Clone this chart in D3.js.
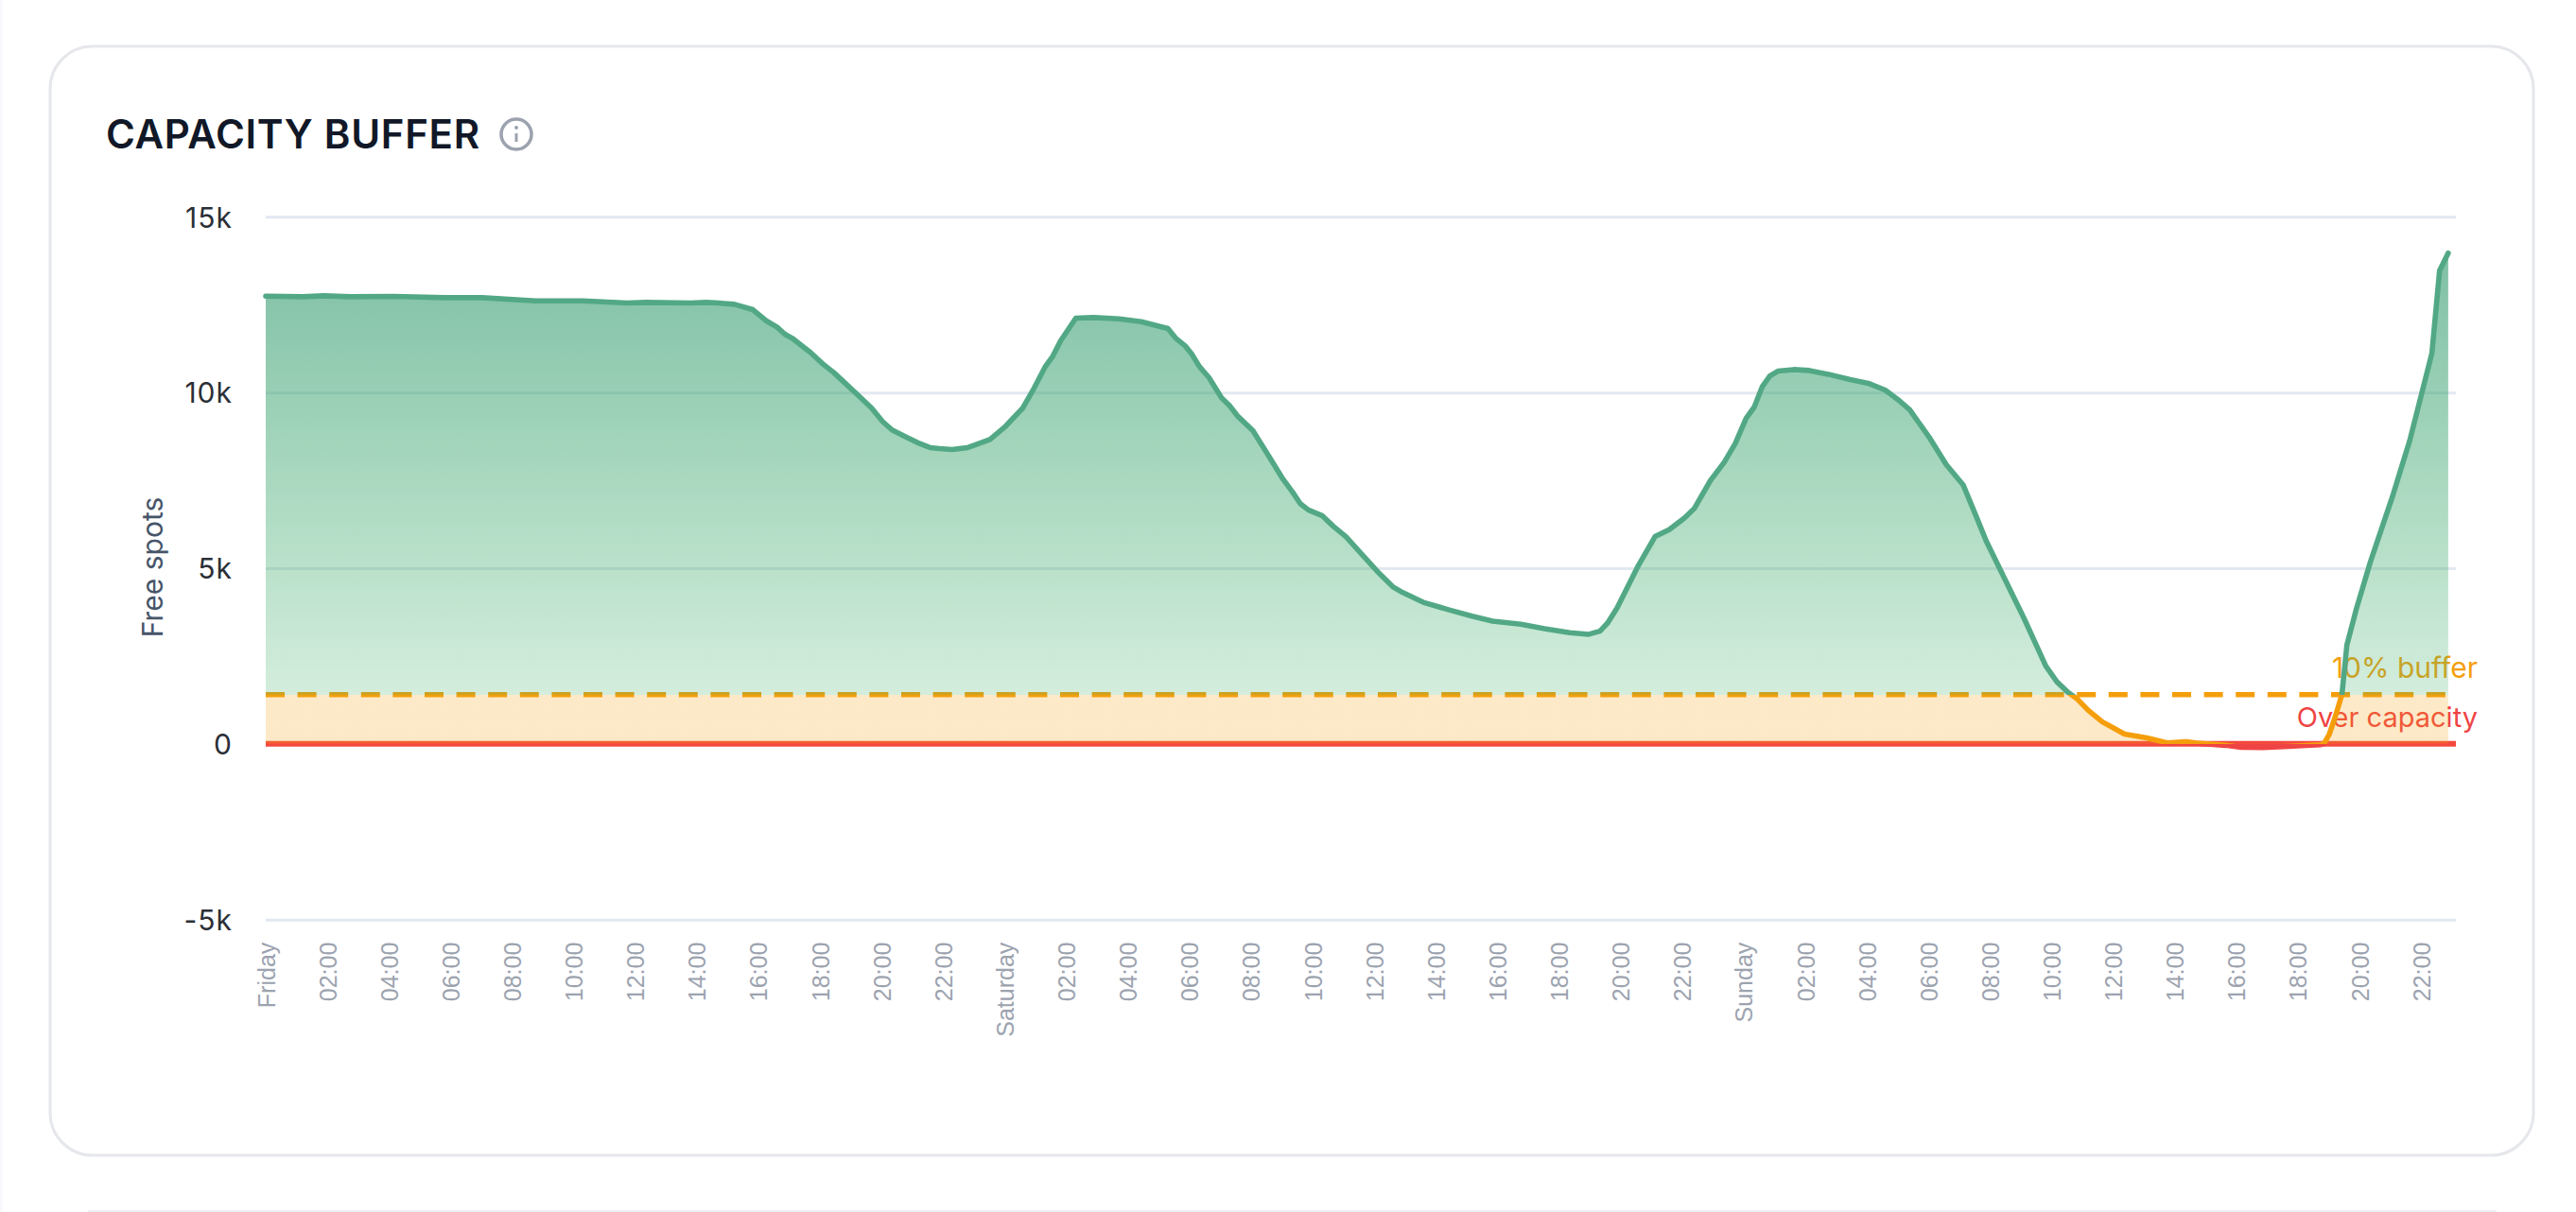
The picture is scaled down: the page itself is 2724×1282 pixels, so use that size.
<!DOCTYPE html>
<html>
<head>
<meta charset="utf-8">
<title>Capacity buffer</title>
<script src="https://cdn.jsdelivr.net/npm/d3@7"></script>
<style>
  html, body { margin: 0; padding: 0; background: #fff; }
  svg { display: block; }
  text { font-family: Inter, sans-serif; }
  .x-axis text { font-family: "Liberation Sans", sans-serif; font-size: 25px; fill: #9ca3af; }
  .y-axis text { font-size: 30px; letter-spacing: 1px; fill: #2b2f36; }
</style>
</head>
<body>
<svg id="chart"></svg>
<script>
// hours since Friday 00:00
const hours = [0, 1.2, 1.9, 2.73, 4.17, 5.8, 7.03, 8.77, 10.3, 11.74, 12.35, 13.8, 14.3, 14.71,
  15.22, 15.82, 16.25, 16.6, 16.86, 17.12, 17.48, 17.68, 18.09, 18.45, 18.91, 19.22, 19.68, 20.03,
  20.34, 20.75, 21.16, 21.57, 21.88, 22.29, 22.8, 23.1, 23.52, 24.03, 24.59, 24.95, 25.31, 25.56,
  25.82, 26.31, 26.89, 27.71, 28.43, 29.3, 29.55, 29.86, 30.07, 30.32, 30.63, 31.04, 31.3, 31.58,
  32.06, 32.52, 33.04, 33.34, 33.6, 33.86, 34.32, 34.67, 35.08, 35.6, 36.11, 36.6, 36.93, 37.59,
  38.46, 39.18, 39.84, 40.76, 41.53, 42.35, 42.97, 43.33, 43.58, 43.89, 44.55, 45.12, 45.58, 46.09,
  46.4, 46.91, 47.37, 47.73, 48.08, 48.34, 48.6, 48.85, 49.11, 49.62, 50.13, 50.75, 51.46, 52.08,
  52.59, 53, 53.39, 54.02, 54.58, 55.13, 55.56, 55.87, 56.12, 56.48, 57.1, 57.81, 58.17, 58.53,
  58.84, 59.19, 59.65, 60.37, 61.09, 61.75, 62.37, 62.73, 63.65, 64.16, 64.87, 65.69, 66.72, 66.84,
  67.02, 67.23, 67.43, 67.59, 67.9, 68.36, 69.07, 69.63, 70.35, 70.6, 70.88];

const freeSpots = [12742, 12724, 12751, 12724, 12733, 12697, 12697, 12607, 12607, 12545, 12563, 12545, 12563, 12545,
  12509, 12357, 12043, 11864, 11658, 11532, 11281, 11147, 10815, 10565, 10188, 9937, 9552, 9176,
  8934, 8754, 8575, 8432, 8405, 8378, 8432, 8530, 8665, 9041, 9561, 10116, 10726, 11030,
  11478, 12115, 12133, 12097, 12016, 11819, 11550, 11326, 11100, 10740, 10428, 9848, 9626, 9314,
  8913, 8271, 7531, 7175, 6836, 6658, 6488, 6194, 5900, 5392, 4902, 4474, 4305, 4029,
  3806, 3636, 3494, 3405, 3280, 3164, 3119, 3209, 3440, 3870, 5030, 5900, 6098, 6437,
  6705, 7482, 8018, 8554, 9268, 9580, 10161, 10473, 10607, 10652, 10625, 10518, 10366, 10250,
  10071, 9804, 9509, 8732, 7946, 7366, 6455, 5786, 5339, 4690, 3580, 2217, 1769, 1471,
  1272, 954, 626, 278, 169, 30, 60, 20, -40, -100, -105, -70, -25, 0,
  278, 825, 1411, 2813, 3850, 5199, 7038, 8628, 11113, 13470, 13966];

const yTicks = [15000, 10000, 5000, 0, -5000];
const yTickLabels = ['15k', '10k', '5k', '0', '-5k'];

const xTicks = [0, 2, 4, 6, 8, 10, 12, 14, 16, 18, 20, 22, 24, 26, 28, 30, 32, 34, 36, 38, 40, 42, 44, 46,
  48, 50, 52, 54, 56, 58, 60, 62, 64, 66, 68, 70];
const xTickLabels = ['Friday', '02:00', '04:00', '06:00', '08:00', '10:00', '12:00', '14:00', '16:00', '18:00', '20:00', '22:00',
  'Saturday', '02:00', '04:00', '06:00', '08:00', '10:00', '12:00', '14:00', '16:00', '18:00', '20:00', '22:00',
  'Sunday', '02:00', '04:00', '06:00', '08:00', '10:00', '12:00', '14:00', '16:00', '18:00', '20:00', '22:00'];

const bufferLevel = 1400;

const width = 2724, height = 1282;
const plotLeft = 281, plotRight = 2597, plotTop = 229.3, plotBottom = 972.7;

const svg = d3.select('#chart').attr('width', width).attr('height', height);

const x = d3.scaleLinear().domain([0, 71.13]).range([plotLeft, plotRight]);
const y = d3.scaleLinear().domain([15000, -5000]).range([plotTop, plotBottom]);
const xEnd = x(d3.max(hours));
const points = hours.map((h, i) => [h, freeSpots[i]]);

// page + card
svg.append('rect').attr('width', width).attr('height', height).attr('fill', '#fff');
svg.append('rect').attr('width', 3).attr('height', height).attr('fill', '#f8f9fc');
svg.append('rect').attr('x', 53).attr('y', 49).attr('width', 2626).attr('height', 1173)
  .attr('rx', 45).attr('fill', '#fff').attr('stroke', '#e5e7eb').attr('stroke-width', 3);
svg.append('line').attr('x1', 93).attr('x2', 2640).attr('y1', 1281).attr('y2', 1281)
  .attr('stroke', '#eef0f3').attr('stroke-width', 2);

// title and info icon
svg.append('text').attr('x', 112).attr('y', 157)
  .attr('font-size', 42).attr('font-weight', 600).attr('letter-spacing', 0.7).attr('fill', '#111827')
  .text('CAPACITY BUFFER');
const info = svg.append('g').attr('transform', 'translate(546,142)');
info.append('circle').attr('r', 16).attr('fill', 'none').attr('stroke', '#9ca3af').attr('stroke-width', 3.5);
info.append('line').attr('y1', -1).attr('y2', 8).attr('stroke', '#9ca3af').attr('stroke-width', 3);
info.append('circle').attr('cy', -7).attr('r', 2).attr('fill', '#9ca3af');

// gradients: fill and stroke switch colour at the buffer level and at zero
const defs = svg.append('defs');
const pct = v => (y(v) - y(14000)) / (y(-200) - y(14000));

const fillGrad = defs.append('linearGradient').attr('id', 'area-fill')
  .attr('gradientUnits', 'userSpaceOnUse')
  .attr('x1', 0).attr('x2', 0).attr('y1', y(14000)).attr('y2', y(-200));
[[0, '#4fa884', 0.73], [pct(bufferLevel), '#46b26d', 0.233], [pct(bufferLevel), '#f59e0b', 0.225],
 [pct(0), '#f59e0b', 0.225], [pct(0), '#ef4444', 1], [1, '#ef4444', 1]].forEach(([o, c, a]) => {
  fillGrad.append('stop').attr('offset', o).attr('stop-color', c).attr('stop-opacity', a);
});

const lineGrad = defs.append('linearGradient').attr('id', 'line-stroke')
  .attr('gradientUnits', 'userSpaceOnUse')
  .attr('x1', 0).attr('x2', 0).attr('y1', y(14000)).attr('y2', y(-200));
[[0, '#52a885'], [pct(bufferLevel), '#52a885'], [pct(bufferLevel), '#f59e0b'],
 [pct(0), '#f59e0b'], [pct(0), '#ef4444'], [1, '#ef4444']].forEach(([o, c]) => {
  lineGrad.append('stop').attr('offset', o).attr('stop-color', c);
});

// y axis, ticks double as gridlines
const yAxis = svg.append('g').attr('class', 'y-axis').attr('transform', `translate(${plotLeft},0)`)
  .call(d3.axisLeft(y).tickValues(yTicks).tickSize(0).tickPadding(35)
    .tickFormat((d, i) => yTickLabels[i]));
yAxis.select('.domain').remove();
yAxis.selectAll('.tick text').attr('dy', '0.36em');
yAxis.selectAll('.tick line').attr('x2', plotRight - plotLeft).attr('stroke', '#e2e8f0').attr('stroke-width', 3);

// x axis
const xAxis = svg.append('g').attr('class', 'x-axis').attr('transform', `translate(0,${plotBottom})`)
  .call(d3.axisBottom(x).tickValues(xTicks).tickSize(0).tickFormat((d, i) => xTickLabels[i]));
xAxis.select('.domain').remove();
xAxis.selectAll('.tick text')
  .attr('text-anchor', 'end').attr('dy', 0).attr('y', 0)
  .attr('transform', 'translate(9,24) rotate(-90)');

svg.append('text').attr('transform', `translate(172,600) rotate(-90)`)
  .attr('text-anchor', 'middle').attr('font-size', 30).attr('fill', '#475569')
  .text('Free spots');

// reference levels: labels sit under the filled area
svg.append('text').attr('x', 2620).attr('y', y(bufferLevel) - 18)
  .attr('text-anchor', 'end').attr('font-size', 30).attr('fill', '#f59e0b').text('10% buffer');
svg.append('text').attr('x', 2620).attr('y', y(0) - 18)
  .attr('text-anchor', 'end').attr('font-size', 29).attr('fill', '#ef4444').text('Over capacity');

svg.append('line').attr('x1', plotLeft).attr('x2', xEnd)
  .attr('y1', y(bufferLevel)).attr('y2', y(bufferLevel))
  .attr('stroke', '#f59e0b').attr('stroke-width', 5.5).attr('stroke-dasharray', '20 13.6');
svg.append('line').attr('x1', plotLeft).attr('x2', plotRight)
  .attr('y1', y(0)).attr('y2', y(0)).attr('stroke', '#f4483e').attr('stroke-width', 6);

const area = d3.area().x(d => x(d[0])).y0(y(0)).y1(d => y(d[1]));
const line = d3.line().x(d => x(d[0])).y(d => y(d[1]));

svg.append('path').datum(points).attr('d', area).attr('fill', 'url(#area-fill)');
svg.append('path').datum(points).attr('d', line)
  .attr('fill', 'none').attr('stroke', 'url(#line-stroke)').attr('stroke-width', 5.6)
  .attr('stroke-linecap', 'round').attr('stroke-linejoin', 'round');
</script>
</body>
</html>
